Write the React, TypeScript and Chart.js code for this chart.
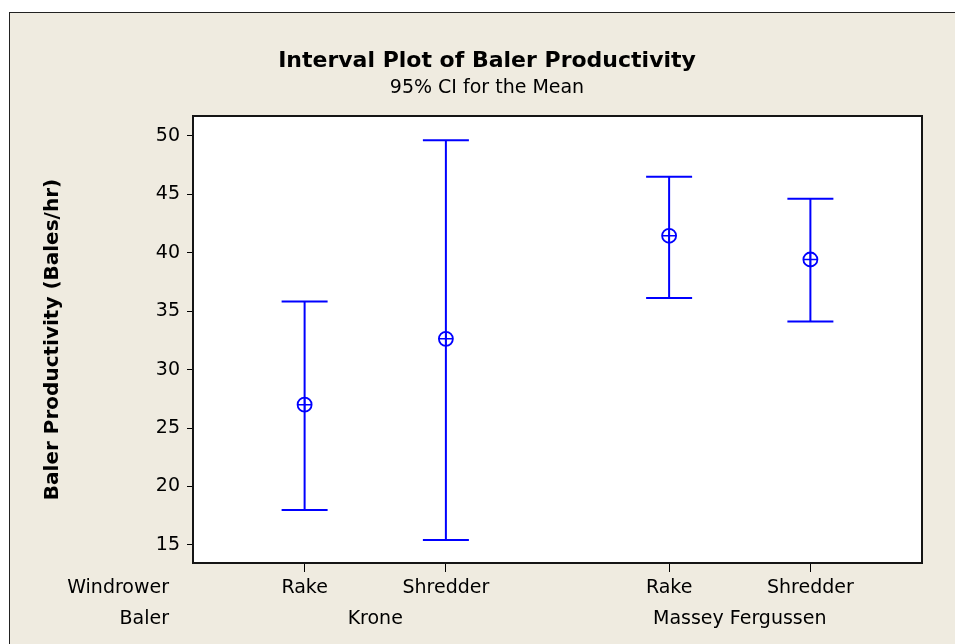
import React, { useEffect, useRef } from "react";
import { Chart, registerables } from "chart.js";

Chart.register(...registerables);

// ---- data ----
const windrowerLabels = ["Rake", "Shredder", "Rake", "Shredder"];
const balerLabels = ["Krone", "Massey Fergussen"];
const balerGroups = [[0, 1], [2, 3]];
const xSlots = [1, 2, 3.58, 4.58];
const means = [27.0, 32.63, 41.45, 39.42];
const lowerCI = [17.98, 15.42, 36.12, 34.12];
const upperCI = [35.82, 49.62, 46.5, 44.62];
const yTicks = [15, 20, 25, 30, 35, 40, 45, 50];

const BLUE = "#0000FF";
const FONT = "'DejaVu Sans', Verdana, sans-serif";

const decor = {
  id: "decor",
  beforeDraw(chart: any) {
    const { ctx, chartArea: a } = chart;
    ctx.save();
    ctx.fillStyle = "#FFFFFF";
    ctx.fillRect(a.left, a.top, a.right - a.left, a.bottom - a.top);
    ctx.restore();
  },
  afterDraw(chart: any) {
    const { ctx, chartArea: a } = chart;
    const xs = chart.scales.x;
    ctx.save();
    ctx.strokeStyle = "#151515";
    ctx.lineWidth = 2;
    ctx.strokeRect(a.left, a.top, a.right - a.left, a.bottom - a.top);

    ctx.fillStyle = "#000";
    ctx.textAlign = "center";
    ctx.textBaseline = "alphabetic";
    ctx.font = `bold 22px ${FONT}`;
    ctx.fillText("Interval Plot of Baler Productivity", 487, 67);
    ctx.font = `19px ${FONT}`;
    ctx.fillText("95% CI for the Mean", 487, 93);

    const row1 = a.bottom + 30;
    const row2 = a.bottom + 61;
    ctx.font = `19px ${FONT}`;
    windrowerLabels.forEach((lab, i) => {
      ctx.fillText(lab, xs.getPixelForValue(xSlots[i]), row1);
    });
    balerLabels.forEach((lab, g) => {
      const idx = balerGroups[g];
      const px =
        (xs.getPixelForValue(xSlots[idx[0]]) + xs.getPixelForValue(xSlots[idx[idx.length - 1]])) / 2;
      ctx.fillText(lab, px, row2);
    });
    ctx.textAlign = "right";
    ctx.fillText("Windrower", a.left - 24, row1);
    ctx.fillText("Baler", a.left - 24, row2);
    ctx.restore();
  },
};

export default function App() {
  const ref = useRef<HTMLCanvasElement | null>(null);

  useEffect(() => {
    if (!ref.current) return;
    const stems = xSlots.map((x, i) => ({
      type: "scatter" as const,
      data: [
        { x, y: lowerCI[i] },
        { x, y: upperCI[i] },
      ],
      showLine: true,
      borderColor: BLUE,
      borderWidth: 2,
      pointRadius: 0,
    }));
    const caps = {
      type: "scatter" as const,
      data: xSlots.flatMap((x, i) => [
        { x, y: lowerCI[i] },
        { x, y: upperCI[i] },
      ]),
      pointStyle: "line",
      pointRadius: 23,
      pointBorderWidth: 2,
      borderColor: BLUE,
      pointBorderColor: BLUE,
      showLine: false,
    };
    const circles = {
      type: "scatter" as const,
      data: xSlots.map((x, i) => ({ x, y: means[i] })),
      pointStyle: "circle",
      pointRadius: 7,
      pointBorderWidth: 1.8,
      pointBorderColor: BLUE,
      pointBackgroundColor: "rgba(0,0,0,0)",
      showLine: false,
    };
    const crosses = {
      type: "scatter" as const,
      data: xSlots.map((x, i) => ({ x, y: means[i] })),
      pointStyle: "cross",
      pointRadius: 7,
      pointBorderWidth: 1.5,
      pointBorderColor: BLUE,
      showLine: false,
    };

    const chart = new Chart(ref.current, {
      type: "scatter",
      data: { datasets: [...stems, caps, circles, crosses] as any },
      options: {
        animation: false,
        responsive: false,
        events: [],
        layout: { padding: { top: 116, right: 33, left: 0, bottom: 0 } },
        plugins: { legend: { display: false }, tooltip: { enabled: false }, title: { display: false } },
        scales: {
          x: {
            type: "linear",
            min: 0.21,
            max: 5.37,
            afterBuildTicks: (s: any) => {
              s.ticks = xSlots.map((v) => ({ value: v }));
            },
            afterFit: (s: any) => {
              s.height = 81;
            },
            ticks: { display: false },
            grid: { display: true, drawOnChartArea: false, drawTicks: true, tickLength: 9, color: "#000", lineWidth: 1 },
            border: { display: false },
          },
          y: {
            type: "linear",
            min: 13.45,
            max: 51.7,
            afterBuildTicks: (s: any) => {
              s.ticks = yTicks.map((v) => ({ value: v }));
            },
            afterFit: (s: any) => {
              s.width = 193;
            },
            ticks: { autoSkip: false, padding: 7, color: "#000", font: { family: FONT, size: 19 } },
            grid: { display: true, drawOnChartArea: false, drawTicks: true, tickLength: 6, color: "#000", lineWidth: 1 },
            border: { display: false },
            title: {
              display: true,
              text: "Baler Productivity (Bales/hr)",
              color: "#000",
              font: { family: FONT, size: 20, weight: "bold" },
              padding: { top: 41, bottom: 0 },
            },
          },
        },
      } as any,
      plugins: [decor],
    });
    return () => chart.destroy();
  }, []);

  return (
    <div style={{ position: "fixed", left: 0, top: 0, width: 955, height: 644, background: "#FFFFFF", overflow: "hidden" }}>
      <div
        style={{
          position: "absolute",
          left: 9,
          top: 12,
          width: 1000,
          height: 700,
          background: "#EFEBE0",
          borderLeft: "1.5px solid #222",
          borderTop: "1.5px solid #222",
        }}
      />
      <canvas ref={ref} width={955} height={644} style={{ position: "absolute", left: 0, top: 0 }} />
    </div>
  );
}
